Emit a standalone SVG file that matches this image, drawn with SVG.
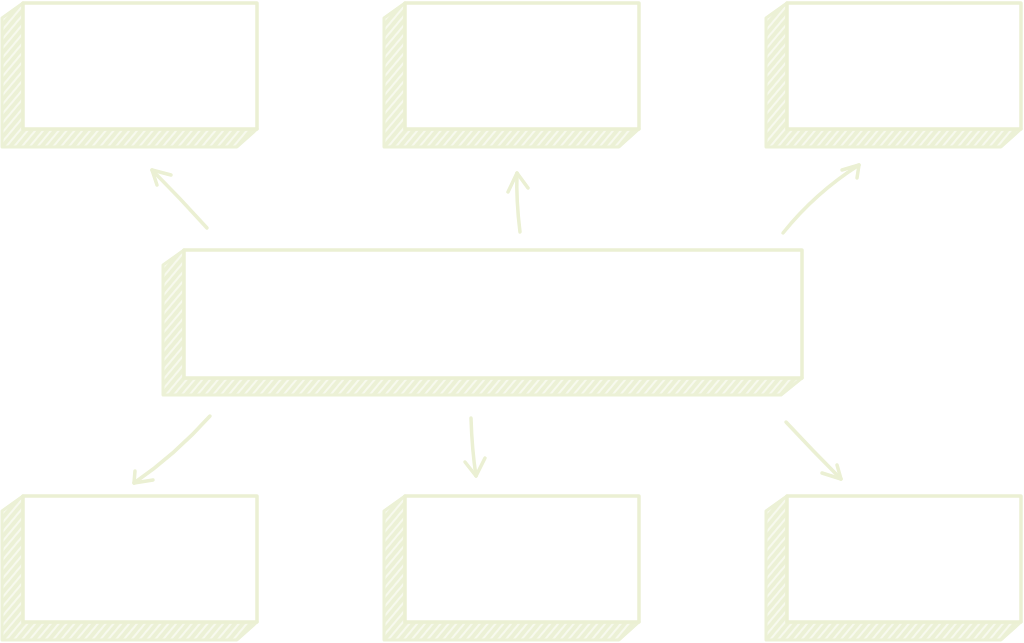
<svg xmlns="http://www.w3.org/2000/svg" width="1024" height="643" viewBox="0 0 1024 643">
<defs>
<pattern id="hatch" patternUnits="userSpaceOnUse" width="6" height="6" patternTransform="rotate(-50)">
<rect width="6" height="6" fill="#ecf1d6"/>
<line x1="0" y1="3" x2="6" y2="3" stroke="#ffffff" stroke-width="1.4" opacity="0.85"/>
</pattern>
</defs>
<style>
.side{fill:url(#hatch);stroke:#ecf1d6;stroke-width:3;stroke-linejoin:round}
.front{fill:#ffffff;stroke:#ebf0d3;stroke-width:3.5;stroke-linejoin:round}
.arr{fill:none;stroke:#ebf0d3;stroke-width:3.5;stroke-linecap:round;stroke-linejoin:round}
</style>
<rect width="1024" height="643" fill="#ffffff"/>
<g id="box-top-left" transform="translate(0,0)">
<path class="side" d="M23,3 L2,18 L2,147 L237,147 L257,129 L23,129 Z"/>
<rect class="front" x="23" y="3" width="234" height="126"/>
</g>
<g id="box-top-mid" transform="translate(382,0)">
<path class="side" d="M23,3 L2,18 L2,147 L237,147 L257,129 L23,129 Z"/>
<rect class="front" x="23" y="3" width="234" height="126"/>
</g>
<g id="box-top-right" transform="translate(764,0)">
<path class="side" d="M23,3 L2,18 L2,147 L237,147 L257,129 L23,129 Z"/>
<rect class="front" x="23" y="3" width="234" height="126"/>
</g>
<g id="box-center">
<path class="side" d="M184,250 L163,265 L163,395 L781,395 L802,378 L184,378 Z"/>
<rect class="front" x="184" y="250" width="618" height="128"/>
</g>
<g id="box-bottom-left" transform="translate(0,493)">
<path class="side" d="M23,3 L2,18 L2,147 L237,147 L257,129 L23,129 Z"/>
<rect class="front" x="23" y="3" width="234" height="126"/>
</g>
<g id="box-bottom-mid" transform="translate(382,493)">
<path class="side" d="M23,3 L2,18 L2,147 L237,147 L257,129 L23,129 Z"/>
<rect class="front" x="23" y="3" width="234" height="126"/>
</g>
<g id="box-bottom-right" transform="translate(764,493)">
<path class="side" d="M23,3 L2,18 L2,147 L237,147 L257,129 L23,129 Z"/>
<rect class="front" x="23" y="3" width="234" height="126"/>
</g>
<g id="connectors">
<path class="arr" d="M207,228 Q180,198 152,170"/>
<path class="arr" d="M171,175 L152,170 L157,185"/>
<path class="arr" d="M520,232 Q516,200 517,173"/>
<path class="arr" d="M508,192 L517,173 L528,188"/>
<path class="arr" d="M783,233 Q815,193 859,165"/>
<path class="arr" d="M842,170 L859,165 L857,178"/>
<path class="arr" d="M210,416 Q175,455 134,483"/>
<path class="arr" d="M135,471 L134,483 L153,480"/>
<path class="arr" d="M471,418 Q472,450 476,476"/>
<path class="arr" d="M465,462 L476,476 L485,458"/>
<path class="arr" d="M786,422 Q812,450 841,479"/>
<path class="arr" d="M822,473 L841,479 L837,465"/>
</g>
</svg>
